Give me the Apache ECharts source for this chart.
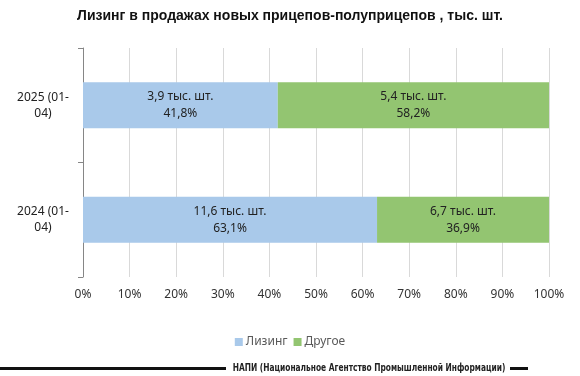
<!DOCTYPE html>
<html>
<head>
<meta charset="utf-8">
<script src="https://cdn.jsdelivr.net/npm/echarts@6/dist/echarts.min.js"></script>
<style>
  html, body { margin: 0; padding: 0; background: #fff; }
  #chart { width: 580px; height: 376px; }
</style>
</head>
<body>
<div id="chart"></div>
<script>
// periods, bottom to top
const periods = ['2024 (01-04)', '2025 (01-04)']
const leasingQty = [11.6, 3.9]     // тыс. шт.
const otherQty = [6.7, 5.4]
const leasingPct = [63.1, 41.8]
const otherPct = [36.9, 58.2]
const pctTicks = [0, 100, 10]

const chart = echarts.init(document.getElementById('chart'))

const fmt = v => String(v).replace('.', ',')

const labelFor = (qty, pct) => ({
  show: true,
  position: 'inside',
  color: '#222',
  fontSize: 12,
  fontFamily: 'Noto Sans',
  lineHeight: 17,
  formatter: p => fmt(qty[p.dataIndex].toFixed(1)) + ' тыс. шт.\n' + fmt(pct[p.dataIndex].toFixed(1)) + '%'
})

chart.setOption({
  animation: false,
  title: {
    text: 'Лизинг в продажах новых прицепов-полуприцепов , тыс. шт.',
    left: 'center',
    top: 4,
    textStyle: { fontFamily: 'Liberation Sans', fontSize: 14, fontWeight: 'bold', color: '#111' }
  },
  legend: {
    bottom: 23,
    left: 'center',
    itemWidth: 8,
    itemHeight: 8,
    itemGap: 6,
    icon: 'rect',
    textStyle: { fontFamily: 'Noto Sans', fontSize: 12, color: '#595959', padding: [0, 0, 0, -2] },
    data: ['Лизинг', 'Другое']
  },
  grid: { left: 83, right: 31, top: 48, bottom: 99 },
  xAxis: {
    type: 'value',
    min: pctTicks[0],
    max: pctTicks[1],
    interval: pctTicks[2],
    axisLabel: { formatter: '{value}%', color: '#333', fontSize: 12, fontFamily: 'Noto Sans', margin: 12 },
    splitLine: { lineStyle: { color: '#d9d9d9' } },
    axisLine: { show: false },
    axisTick: { show: false }
  },
  yAxis: {
    type: 'category',
    data: periods,
    axisLine: { lineStyle: { color: '#868686' } },
    axisTick: { show: true, length: 5, lineStyle: { color: '#868686' } },
    axisLabel: {
      color: '#222',
      fontSize: 12,
      fontFamily: 'Noto Sans',
      align: 'center',
      margin: 40,
      lineHeight: 16,
      formatter: v => v.replace('(01-04)', '(01-\n04)')
    }
  },
  series: [
    {
      name: 'Лизинг',
      type: 'bar',
      stack: 'total',
      barWidth: '40%',
      itemStyle: { color: '#a9c9ea' },
      label: labelFor(leasingQty, leasingPct),
      data: leasingPct
    },
    {
      name: 'Другое',
      type: 'bar',
      stack: 'total',
      barWidth: '40%',
      itemStyle: { color: '#93c571' },
      label: labelFor(otherQty, otherPct),
      data: otherPct
    }
  ],
  graphic: [
    { type: 'rect', shape: { x: 0, y: 367, width: 226, height: 3 }, style: { fill: '#111' } },
    {
      type: 'text', x: 369, y: 368, scaleX: 0.83,
      style: {
        text: 'НАПИ (Национальное Агентство Промышленной Информации)',
        fontFamily: 'DejaVu Sans Condensed', fontSize: 10, fontWeight: 'bold',
        fill: '#222', align: 'center', verticalAlign: 'middle'
      }
    },
    { type: 'rect', shape: { x: 510, y: 367, width: 18, height: 3 }, style: { fill: '#111' } }
  ]
})
</script>
</body>
</html>
